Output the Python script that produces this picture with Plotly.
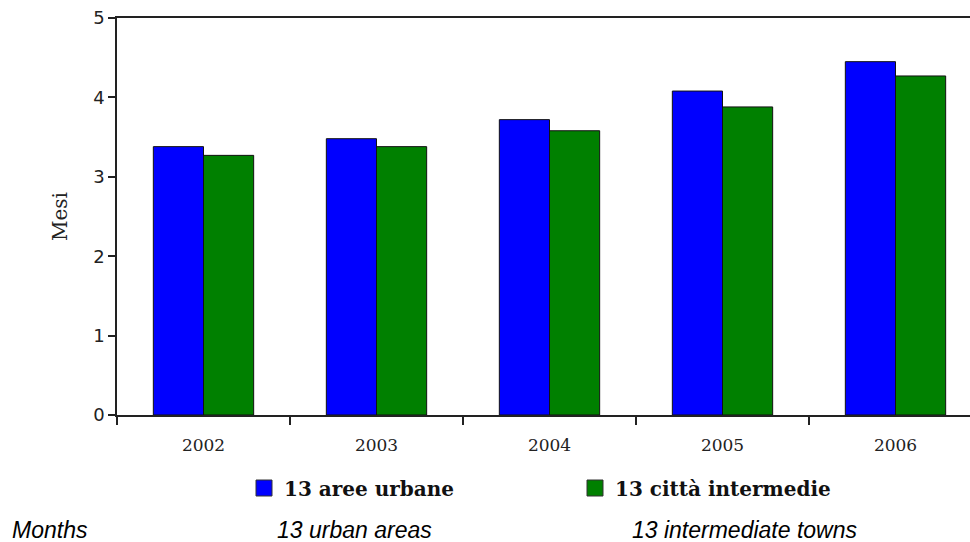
import plotly.graph_objects as go

years = ["2002", "2003", "2004", "2005", "2006"]
urban = [3.38, 3.48, 3.72, 4.08, 4.45]
towns = [3.27, 3.38, 3.58, 3.88, 4.27]
series_names = ["13 aree urbane", "13 città intermedie"]
series_colors = ["#0000FF", "#008000"]
y_ticks = [0, 1, 2, 3, 4, 5]
bottom_labels = ["Months", "13 urban areas", "13 intermediate towns"]

W, H = 970, 542
L, R, T, B = 117, 0, 18, 127
plot_w = W - L - R
cat_px = 173.0
x_hi = -0.5 + plot_w / cat_px

fig = go.Figure()
for name, vals, col in zip(series_names, [urban, towns], series_colors):
    fig.add_trace(go.Bar(
        x=years, y=vals, name=name, showlegend=False,
        marker=dict(color=col, line=dict(color="#111111", width=1)),
    ))
    fig.add_trace(go.Scatter(
        x=[None], y=[None], mode="markers", name=name,
        marker=dict(symbol="square", size=16, color=col,
                    line=dict(color="#333333", width=1)),
    ))

fig.update_layout(
    width=W, height=H,
    margin=dict(l=L, r=R, t=T, b=B),
    paper_bgcolor="white", plot_bgcolor="white",
    barmode="group", bargap=0.42, bargroupgap=0,
    showlegend=True,
    legend=dict(
        orientation="h", x=(244 - L) / plot_w, xanchor="left",
        y=(415 - 488) / 397.0, yanchor="middle",
        font=dict(family="DejaVu Serif", size=20, color="#111111", weight="bold"),
        entrywidth=286, entrywidthmode="pixels",
        bgcolor="rgba(0,0,0,0)",
    ),
    font=dict(family="DejaVu Serif", color="#111111"),
)

fig.update_xaxes(
    type="category", range=[-0.5, x_hi],
    showline=True, linecolor="#222222", linewidth=1.5, mirror=True,
    ticks="outside", tickson="boundaries", ticklen=8, tickwidth=1.5, tickcolor="#222222",
    tickfont=dict(family="DejaVu Serif", size=17, color="#222222"),
    ticklabelstandoff=14,
    showgrid=False, zeroline=False,
)
fig.update_yaxes(
    range=[0, 5], tickvals=y_ticks,
    showline=True, linecolor="#222222", linewidth=1.5, mirror=False,
    ticks="outside", ticklen=7, tickwidth=1.5, tickcolor="#222222",
    tickfont=dict(family="DejaVu Sans", size=18, color="#222222"),
    title=dict(text="Mesi", font=dict(family="DejaVu Serif", size=20, color="#222222"), standoff=20),
    showgrid=False, zeroline=False,
)

label_px = [12, 277, 632]
for txt, px in zip(bottom_labels, label_px):
    fig.add_annotation(
        text="<i>" + txt + "</i>", xref="paper", yref="paper",
        x=(px - L) / plot_w, y=(415 - 530) / 397.0,
        xanchor="left", yanchor="middle", showarrow=False,
        font=dict(family="Liberation Sans", size=23, color="#000000"),
        xshift=-2,
    )

fig.write_html("out.html")
